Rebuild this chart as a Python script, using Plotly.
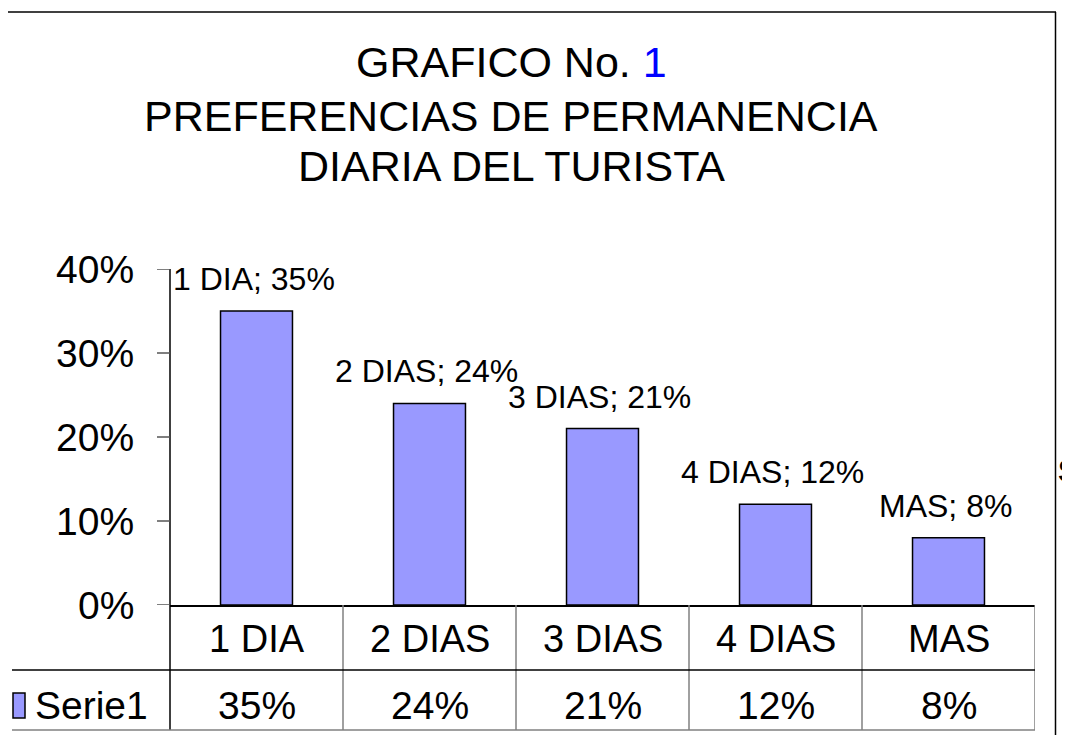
import plotly.graph_objects as go

# ---- data ----
categories = ["1 DIA", "2 DIAS", "3 DIAS", "4 DIAS", "MAS"]
values = [0.35, 0.24, 0.21, 0.12, 0.08]
series_name = "Serie1"
y_tick_vals = [0.0, 0.1, 0.2, 0.3, 0.4]
y_tick_text = ["0%", "10%", "20%", "30%", "40%"]
title_lines = ["GRAFICO No. <span style='color:#0000FF'>1</span>",
               "PREFERENCIAS DE PERMANENCIA",
               "DIARIA DEL TURISTA"]

# page body has an 8px margin; map screen pixels to figure pixels
OFF = 8
W, H = 1062, 727
FONT = "Liberation Sans, Arial, sans-serif"
BAR_COLOR = "#9999FF"


def px(x):
    return (x - OFF) / W


def py(y):
    return 1 - (y - OFF) / H


def pct(v):
    return f"{round(v * 100)}%"


fig = go.Figure()
fig.add_trace(go.Bar(
    x=categories, y=values, name=series_name, width=0.416,
    marker=dict(color=BAR_COLOR, line=dict(color="black", width=1.5)),
    hoverinfo="skip", showlegend=False,
))

annotations = []
# title
for line, yc in zip(title_lines, [62, 116, 166]):
    annotations.append(dict(text=line, xref="paper", yref="paper", x=px(511), y=py(yc),
                            xanchor="center", yanchor="middle", showarrow=False,
                            font=dict(family=FONT, size=43, color="black")))
# y tick labels
for tv, tt in zip(y_tick_vals, y_tick_text):
    annotations.append(dict(text=tt, xref="paper", yref="y", x=px(136), y=tv,
                            xanchor="right", yanchor="middle", showarrow=False,
                            font=dict(family=FONT, size=39, color="black")))
# data labels
for c, v in zip(categories, values):
    annotations.append(dict(text=f"{c}; {pct(v)}", xref="x", yref="y", x=c, y=v,
                            xanchor="center", yanchor="middle", yshift=32, xshift=-3,
                            showarrow=False, font=dict(family=FONT, size=32, color="black")))
# data table
for c, v in zip(categories, values):
    annotations.append(dict(text=c, xref="x", yref="paper", x=c, y=py(639),
                            xanchor="center", yanchor="middle", showarrow=False,
                            font=dict(family=FONT, size=38, color="black")))
    annotations.append(dict(text=pct(v), xref="x", yref="paper", x=c, y=py(705),
                            xanchor="center", yanchor="middle", showarrow=False,
                            font=dict(family=FONT, size=39, color="black")))
annotations.append(dict(text=series_name, xref="paper", yref="paper", x=px(33), y=py(705),
                        xanchor="left", yanchor="middle", showarrow=False,
                        font=dict(family=FONT, size=39, color="black")))
# cropped legend text at right edge
annotations.append(dict(text="<b>S</b>", xref="paper", yref="paper",
                        x=px(1056), y=py(471), xanchor="left", yanchor="middle",
                        showarrow=False, font=dict(family=FONT, size=31, color="black")))

shapes = []
# outer chart border (top and right)
shapes.append(dict(type="line", xref="paper", yref="paper", x0=px(8), x1=px(1056),
                   y0=py(12), y1=py(12), line=dict(color="black", width=1.5)))
shapes.append(dict(type="line", xref="paper", yref="paper", x0=px(1055.5), x1=px(1055.5),
                   y0=py(12), y1=py(735), line=dict(color="black", width=1.5)))
# value axis line, continuing down as the table's left edge
shapes.append(dict(type="line", xref="paper", yref="paper", x0=px(170), x1=px(170),
                   y0=py(269), y1=py(730), line=dict(color="black", width=1.5)))
# value axis tick marks
for tv in y_tick_vals:
    shapes.append(dict(type="line", xref="paper", yref="y", x0=px(157), x1=px(170),
                       y0=tv, y1=tv, line=dict(color="#555555", width=1.5)))
# table inner verticals at category boundaries
for i in range(len(categories)):
    shapes.append(dict(type="line", xref="x", yref="paper", x0=i + 0.5, x1=i + 0.5,
                       y0=py(605), y1=py(730), line=dict(color="#808080", width=1.5)))
# table horizontals
shapes.append(dict(type="line", xref="paper", yref="paper", x0=px(12), x1=px(1035),
                   y0=py(670), y1=py(670), line=dict(color="black", width=1.5)))
shapes.append(dict(type="line", xref="paper", yref="paper", x0=px(12), x1=px(1035),
                   y0=py(730), y1=py(730), line=dict(color="#808080", width=1.5)))
# legend key swatch
shapes.append(dict(type="rect", xref="paper", yref="paper", x0=px(13), x1=px(25),
                   y0=py(718), y1=py(693), fillcolor=BAR_COLOR, line=dict(color="black", width=1.5)))

fig.update_layout(
    width=W, height=H, margin=dict(l=0, r=0, t=0, b=0, pad=0, autoexpand=False),
    paper_bgcolor="white", plot_bgcolor="white",
    showlegend=False, bargap=0.5,
    xaxis=dict(domain=[px(170), px(1035)], range=[-0.5, len(categories) - 0.5],
               showticklabels=False, ticks="", showgrid=False, zeroline=False,
               showline=True, linecolor="black", linewidth=1.5, fixedrange=True,
               automargin=False),
    yaxis=dict(domain=[py(605), py(269)], range=[0, 0.4],
               showticklabels=False, ticks="",
               showgrid=False, zeroline=False, showline=False,
               fixedrange=True, automargin=False),
    annotations=annotations, shapes=shapes,
    font=dict(family=FONT),
)

fig.write_html("out.html")
